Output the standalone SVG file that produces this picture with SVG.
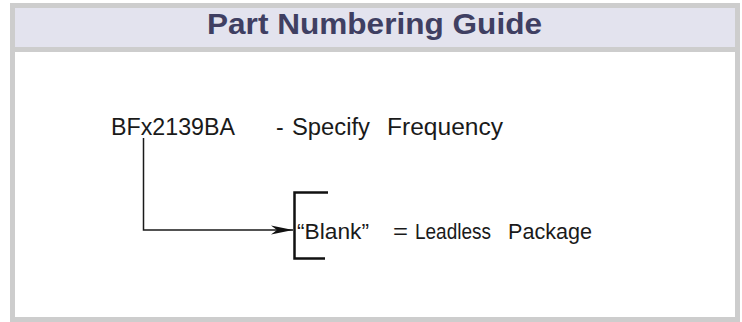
<svg xmlns="http://www.w3.org/2000/svg" width="742" height="322" viewBox="0 0 742 322">
  <style>
    .frame { stroke: #cdcdcd; stroke-width: 5; }
    .title { font-family: "Liberation Sans", Arial, sans-serif; font-weight: bold; font-size: 30px; fill: #3f3f62; }
    .lbl { font-family: "Liberation Sans", Arial, sans-serif; font-size: 23px; fill: #1a1a1a; }
    .lbl2 { font-family: "Liberation Sans", Arial, sans-serif; font-size: 22px; fill: #1a1a1a; }
    .conn { fill: none; stroke: #1a1a1a; stroke-width: 1.5; }
    .bracket { fill: none; stroke: #111; stroke-width: 2.5; }
  </style>
  <defs>
    <marker id="stealth" markerUnits="userSpaceOnUse" markerWidth="23" markerHeight="11" refX="22" refY="5.5" orient="auto">
      <path d="M0,1 L22,5.5 L0,10 L6,5.5 Z" fill="#111"/>
    </marker>
  </defs>
  <rect width="742" height="322" fill="#ffffff"/>
  <g id="header">
    <rect class="frame" x="12.5" y="5.5" width="725" height="44" fill="#e3e3ee"/>
    <text class="title" x="374.5" y="34" text-anchor="middle" textLength="335" lengthAdjust="spacingAndGlyphs">Part Numbering Guide</text>
  </g>
  <g id="body">
    <rect class="frame" x="12.5" y="49.5" width="725" height="270" fill="#ffffff"/>
  </g>
  <g id="part-number">
    <text class="lbl" x="111" y="134.5" textLength="124" lengthAdjust="spacingAndGlyphs">BFx2139BA</text>
    <text class="lbl" x="276" y="134.5">-</text>
    <text class="lbl" x="292" y="134.5" textLength="78" lengthAdjust="spacingAndGlyphs">Specify</text>
    <text class="lbl" x="387" y="134.5" textLength="116" lengthAdjust="spacingAndGlyphs">Frequency</text>
  </g>
  <g id="option">
    <path class="bracket" d="M328,192.5 H294.5 V258.5 H325"/>
    <text class="lbl2" x="297" y="238.5" textLength="72" lengthAdjust="spacingAndGlyphs">“Blank”</text>
    <text class="lbl2" x="393" y="238.5" textLength="15" lengthAdjust="spacingAndGlyphs">=</text>
    <text class="lbl2" x="415" y="238.5" textLength="76" lengthAdjust="spacingAndGlyphs">Leadless</text>
    <text class="lbl2" x="508" y="238.5" textLength="84" lengthAdjust="spacingAndGlyphs">Package</text>
  </g>
  <g id="connectors">
    <polyline class="conn" points="143.5,138 143.5,230 293,230" marker-end="url(#stealth)"/>
  </g>
</svg>
